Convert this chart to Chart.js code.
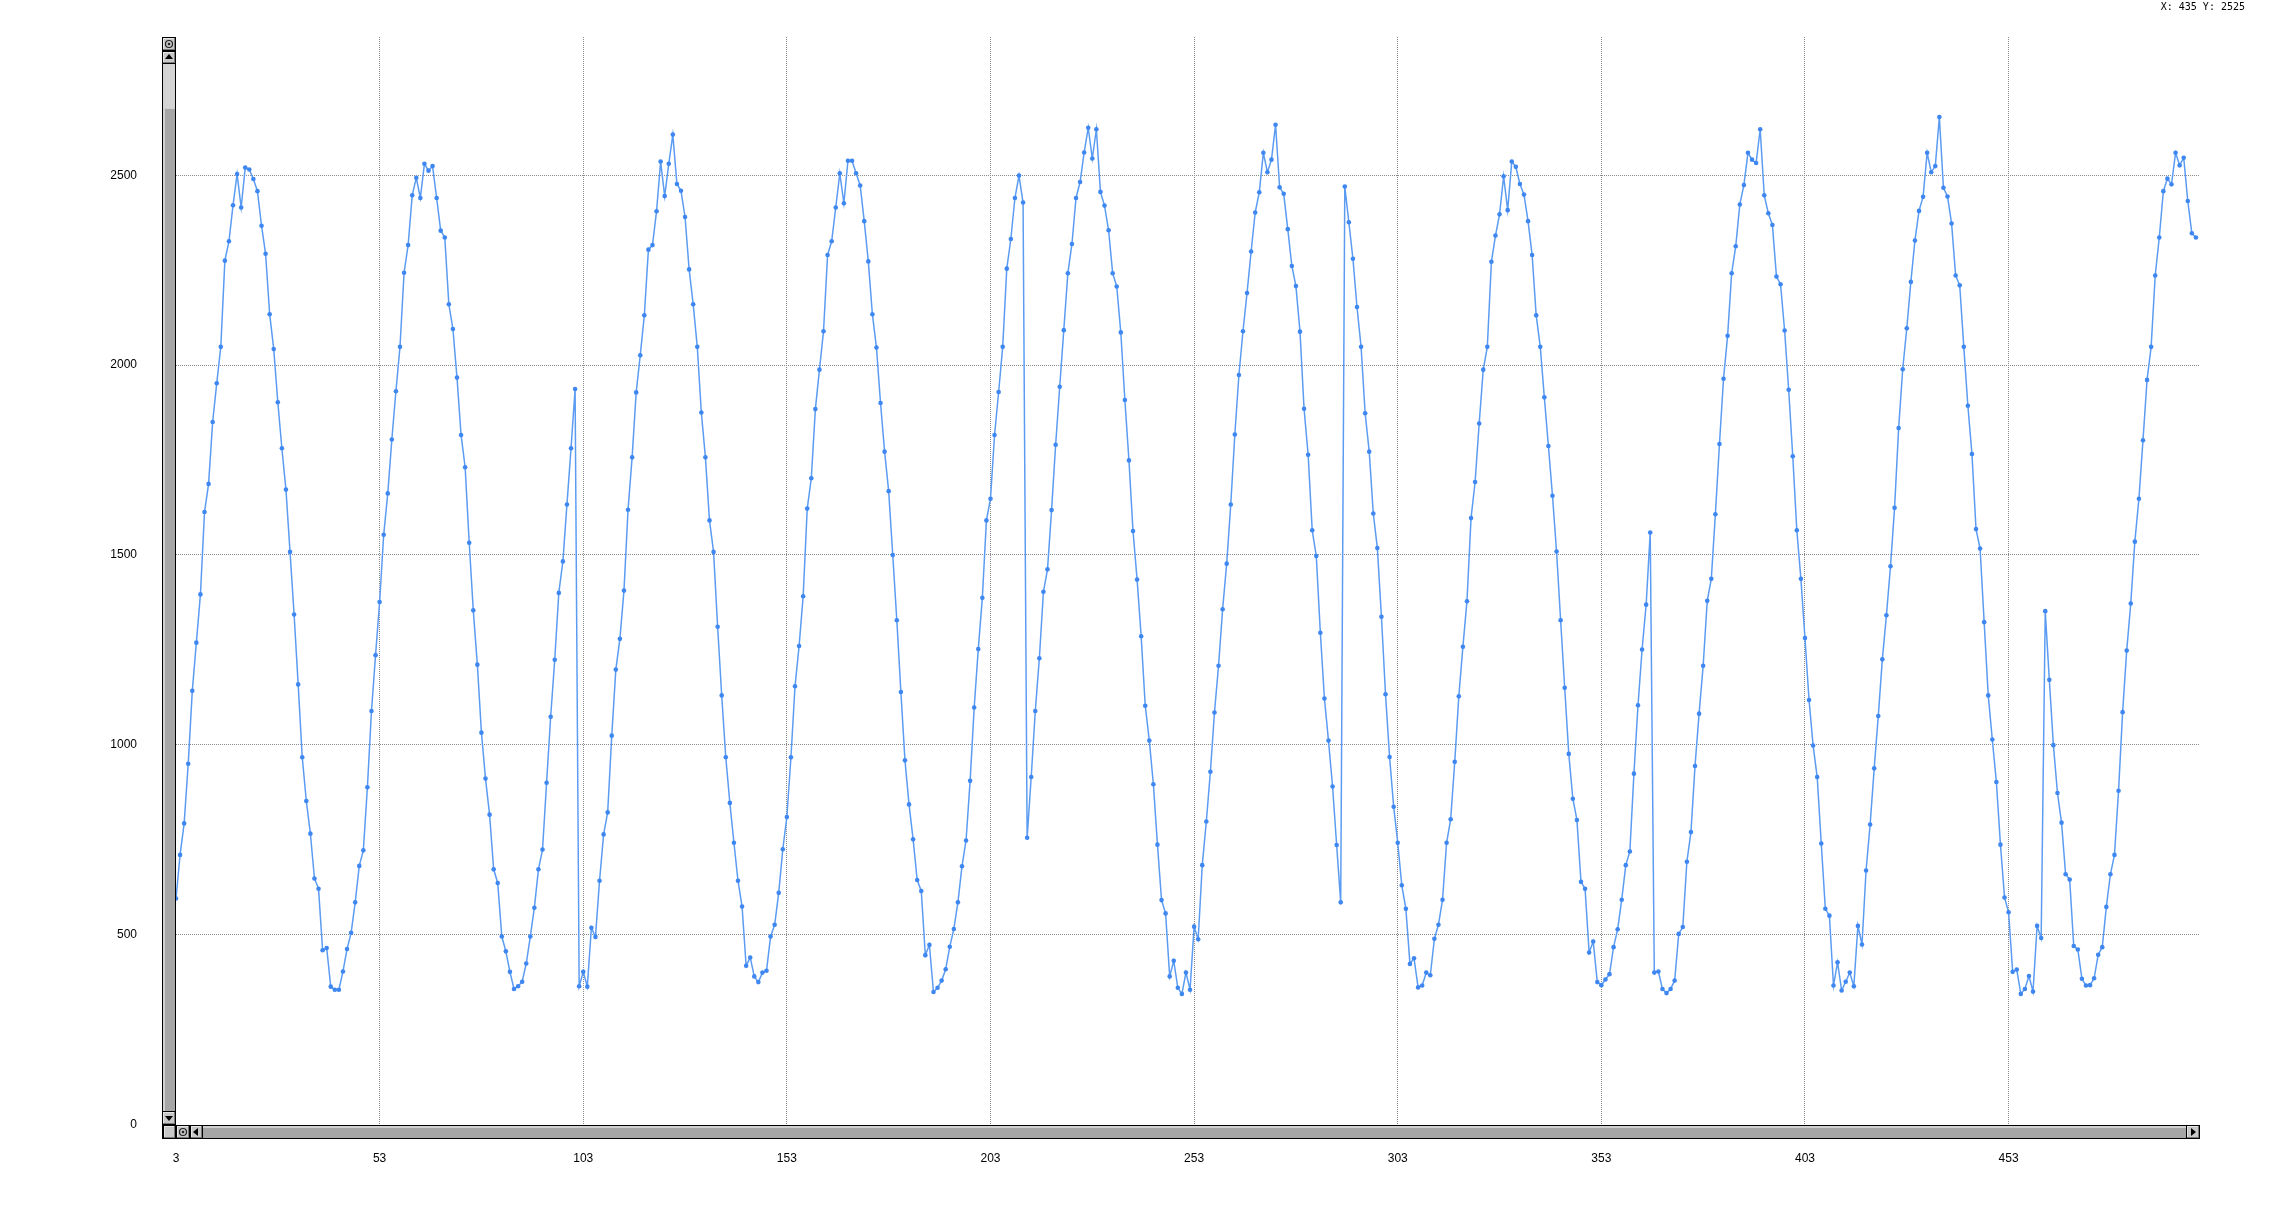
<!DOCTYPE html>
<html><head><meta charset="utf-8">
<script src="https://cdn.jsdelivr.net/npm/chart.js@4/dist/chart.umd.min.js"></script>
<style>html,body{margin:0;padding:0;background:#fff;overflow:hidden}#wrap{position:relative;width:2269px;height:1227px}</style>
</head><body><div id="wrap"><canvas id="c" width="2269" height="1227"></canvas></div>
<script>
// ---- data ----
const xStart = 3;
const values = [
595,710,793,950,1142,1269,1396,1613,1687,1850,1952,2048,2275,2326,2421,2503,2415,2520,2515,2490,
2458,2367,2293,2134,2042,1902,1781,1672,1508,1343,1159,967,852,766,648,621,459,465,363,355,
355,403,462,505,585,681,722,888,1089,1236,1376,1553,1662,1804,1931,2048,2243,2316,2447,2493,
2440,2530,2512,2524,2440,2354,2336,2160,2095,1967,1816,1731,1532,1354,1211,1032,911,816,672,636,
495,456,402,357,364,376,424,495,571,672,724,900,1074,1224,1400,1483,1633,1781,1937,364,
402,363,518,494,642,764,822,1024,1198,1279,1406,1619,1757,1928,2026,2131,2304,2316,2405,2536,
2445,2530,2607,2477,2459,2390,2252,2160,2048,1875,1757,1591,1508,1311,1130,967,847,742,642,574,
418,440,390,375,400,405,495,526,610,725,810,967,1154,1260,1391,1622,1702,1884,1988,2089,
2290,2326,2415,2505,2426,2538,2538,2505,2473,2379,2273,2134,2046,1900,1772,1668,1500,1328,1139,959,
843,751,644,615,446,473,349,360,379,409,468,515,585,680,748,905,1098,1252,1387,1591,
1648,1816,1929,2048,2254,2332,2440,2499,2428,755,915,1089,1228,1403,1462,1618,1790,1943,2092,2242,
2319,2440,2482,2560,2625,2544,2621,2456,2420,2355,2242,2207,2086,1908,1749,1563,1435,1286,1103,1011,
896,737,591,556,390,431,360,344,400,355,521,488,683,798,929,1085,1208,1357,1477,1633,
1817,1974,2089,2190,2299,2402,2455,2559,2508,2541,2633,2468,2451,2358,2261,2208,2088,1885,1764,1565,
1497,1295,1122,1011,890,736,585,2470,2376,2280,2153,2048,1873,1772,1609,1518,1337,1133,968,837,
742,630,568,423,438,361,366,400,393,489,526,592,742,804,955,1128,1258,1378,1597,1692,
1846,1988,2048,2272,2341,2397,2497,2408,2536,2522,2477,2449,2379,2290,2131,2048,1915,1787,1656,1509,
1328,1150,976,858,802,639,621,453,482,375,367,382,396,467,514,592,683,719,924,1104,
1251,1369,1559,400,403,357,346,357,379,502,520,692,770,944,1082,1208,1379,1437,1607,1792,
1964,2077,2242,2313,2423,2474,2559,2541,2532,2621,2447,2400,2369,2233,2213,2091,1935,1760,1565,1437,
1281,1118,998,915,740,568,550,366,427,353,376,400,364,523,474,669,790,938,1076,1225,
1341,1470,1624,1834,1989,2097,2219,2328,2406,2443,2559,2508,2524,2653,2467,2444,2373,2236,2210,2048,
1893,1766,1568,1517,1323,1130,1014,902,737,598,559,402,408,344,357,391,350,523,491,1352,
1171,999,873,795,659,645,470,461,384,366,367,385,447,467,573,659,710,879,1086,1248,
1372,1535,1648,1802,1961,2048,2236,2336,2458,2491,2476,2559,2526,2546,2432,2347,2336
];
const xTicks = [3,53,103,153,203,253,303,353,403,453];
const yTicks = [0,500,1000,1500,2000,2500];
const xMin = 3, xMax = 500, yMin = 0, yMax = 2864;
const cursorText = 'X: 435 Y: 2525';

const points = values.map((v, i) => ({x: xStart + i, y: v}));

// ---- decoration plugin (scrollbars, cursor readout) ----
function btn(ctx, x, y, w, h) {
  ctx.fillStyle = '#000'; ctx.fillRect(x, y, w, h);
  ctx.fillStyle = '#c8c8c8'; ctx.fillRect(x + 1, y + 1, w - 2, h - 2);
  ctx.fillStyle = '#e6e6e6'; ctx.fillRect(x + 1, y + 1, w - 2, 1); ctx.fillRect(x + 1, y + 1, 1, h - 2);
  ctx.fillStyle = '#7a7a7a'; ctx.fillRect(x + 1, y + h - 2, w - 2, 1); ctx.fillRect(x + w - 2, y + 1, 1, h - 2);
}
function tri(ctx, cx, cy, dir) {
  ctx.fillStyle = '#000'; ctx.beginPath();
  if (dir === 'up') { ctx.moveTo(cx - 4, cy + 2); ctx.lineTo(cx + 4, cy + 2); ctx.lineTo(cx, cy - 3); }
  if (dir === 'down') { ctx.moveTo(cx - 4, cy - 2); ctx.lineTo(cx + 4, cy - 2); ctx.lineTo(cx, cy + 3); }
  if (dir === 'left') { ctx.moveTo(cx + 2, cy - 4); ctx.lineTo(cx + 2, cy + 4); ctx.lineTo(cx - 3, cy); }
  if (dir === 'right') { ctx.moveTo(cx - 2, cy - 4); ctx.lineTo(cx - 2, cy + 4); ctx.lineTo(cx + 3, cy); }
  ctx.closePath(); ctx.fill();
}
function ring(ctx, cx, cy) {
  ctx.strokeStyle = '#222'; ctx.lineWidth = 1.2; ctx.beginPath(); ctx.arc(cx, cy, 3.5, 0, Math.PI * 2); ctx.stroke();
  ctx.fillStyle = '#222'; ctx.beginPath(); ctx.arc(cx, cy, 1.3, 0, Math.PI * 2); ctx.fill();
}
const deco = {
  id: 'deco',
  afterDraw(chart) {
    const ctx = chart.ctx, a = chart.chartArea;
    const L = Math.round(a.left), R = Math.round(a.right), T = Math.round(a.top), B = Math.round(a.bottom);
    const sw = 14;
    ctx.save();
    // vertical scrollbar
    ctx.fillStyle = '#000'; ctx.fillRect(L - sw, T, sw, B - T + sw);
    btn(ctx, L - sw, T, sw, 14); ring(ctx, L - sw / 2, T + 7);
    btn(ctx, L - sw, T + 14, sw, 13); tri(ctx, L - sw / 2, T + 20, 'up');
    ctx.fillStyle = '#d4d4d4'; ctx.fillRect(L - sw + 1, T + 27, sw - 2, 44);
    ctx.fillStyle = '#a6a6a6'; ctx.fillRect(L - sw + 1, T + 71, sw - 2, B - T - 71 - 14);
    ctx.fillStyle = '#d0d0d0'; ctx.fillRect(L - sw + 1, T + 71, 2, B - T - 71 - 14); ctx.fillRect(L - sw + 1, T + 71, sw - 2, 1);
    btn(ctx, L - sw, B - 14, sw, 14); tri(ctx, L - sw / 2, B - 7, 'down');
    // horizontal scrollbar
    ctx.fillStyle = '#000'; ctx.fillRect(L - sw, B, R - L + sw, sw);
    btn(ctx, L - sw + 1, B, sw - 1, sw);
    btn(ctx, L, B, 14, sw); ring(ctx, L + 7, B + 7);
    btn(ctx, L + 14, B, 13, sw); tri(ctx, L + 20, B + 7, 'left');
    ctx.fillStyle = '#a6a6a6'; ctx.fillRect(L + 27, B + 1, R - L - 27 - 14, sw - 2);
    ctx.fillStyle = '#d0d0d0'; ctx.fillRect(L + 27, B + 1, R - L - 27 - 14, 2);
    btn(ctx, R - 14, B, 14, sw); tri(ctx, R - 7, B + 7, 'right');
    // cursor readout
    ctx.fillStyle = '#000'; ctx.font = '10px "DejaVu Sans Mono", monospace';
    ctx.textAlign = 'right'; ctx.textBaseline = 'top';
    ctx.fillText(cursorText, 2245, 2);
    ctx.restore();
  }
};

new Chart(document.getElementById('c'), {
  type: 'line',
  data: {
    datasets: [{
      data: points,
      borderColor: '#5b9cf2',
      borderWidth: 1.5,
      pointRadius: 2.3,
      pointBorderWidth: 0,
      pointBackgroundColor: '#3f87f0',
      pointHoverRadius: 2.3,
      tension: 0,
      fill: false
    }]
  },
  options: {
    responsive: false,
    animation: false,
    devicePixelRatio: 1,
    layout: {padding: {top: 37, right: 69, bottom: 0, left: 0}},
    plugins: {legend: {display: false}, tooltip: {enabled: false}},
    events: [],
    scales: {
      x: {
        type: 'linear', min: xMin, max: xMax,
        afterBuildTicks: (ax) => { ax.ticks = xTicks.map(v => ({value: v})); },
        afterFit: (ax) => { ax.height = 102.5; ax.paddingLeft = 0; ax.paddingRight = 0; },
        grid: {drawTicks: false, lineWidth: 1,
               color: (c) => (c.tick && c.tick.value === xMin) ? 'rgba(0,0,0,0)' : '#8a8a8a'},
        border: {display: false, dash: [1, 1]},
        ticks: {autoSkip: false, maxRotation: 0, padding: 27, color: '#000',
                font: {family: '"Liberation Sans", Arial, sans-serif', size: 12},
                callback: (v) => String(v)}
      },
      y: {
        min: yMin, max: yMax,
        afterBuildTicks: (ax) => { ax.ticks = yTicks.map(v => ({value: v})); },
        afterFit: (ax) => { ax.width = 176; ax.paddingTop = 0; ax.paddingBottom = 0; },
        grid: {drawTicks: false, lineWidth: 1,
               color: (c) => (c.tick && c.tick.value === yMin) ? 'rgba(0,0,0,0)' : '#8a8a8a'},
        border: {display: false, dash: [1, 1]},
        ticks: {padding: 39, color: '#000',
                font: {family: '"Liberation Sans", Arial, sans-serif', size: 12},
                callback: (v) => String(v)}
      }
    }
  },
  plugins: [deco]
});
</script>
</body></html>
